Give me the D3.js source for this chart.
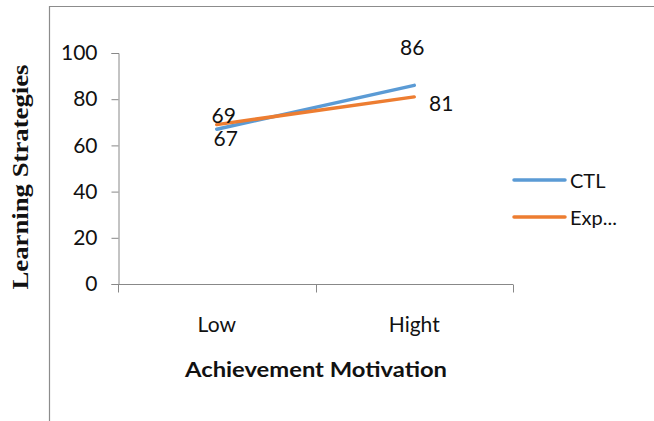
<!DOCTYPE html>
<html>
<head>
<meta charset="utf-8">
<script src="https://cdn.jsdelivr.net/npm/d3@7"></script>
<style>
  body { margin: 0; background: #fff; }
  text { font-family: Lato, "Open Sans", sans-serif; fill: #111; }
</style>
</head>
<body>
<script>
// chart data
const categories = ["Low", "Hight"];
const seriesNames = ["CTL", "Exp..."];
const ctlValues = [67, 86];
const expValues = [69, 81];
const yTicks = [0, 20, 40, 60, 80, 100];
const colors = ["#5B9BD5", "#ED7D31"];

const width = 654;
const height = 421;

const svg = d3
  .select("body")
  .append("svg")
  .attr("width", width)
  .attr("height", height);

// outer frame (only left and top edges visible)
svg.append("path")
  .attr("d", "M49.5,421 V6.5 H654")
  .attr("fill", "none")
  .attr("stroke", "#8c8c8c")
  .attr("stroke-width", 1.2);

// scales
let x = d3.scaleBand().domain(categories).range([118, 513]);
let y = d3.scaleLinear().domain([0, 100]).range([284, 53]);

// y axis
let yAxis = svg.append("g")
  .attr("transform", "translate(118.5,0)")
  .call(d3.axisLeft(y).tickValues(yTicks).tickSize(7).tickPadding(14));
yAxis.select(".domain").attr("stroke", "#888");
yAxis.selectAll(".tick line").attr("stroke", "#888");
yAxis.selectAll(".tick text")
  .attr("font-size", 21)
  .attr("font-family", "Lato, sans-serif")
  .attr("fill", "#111");

// x axis, ticks between categories
let xAxis = svg.append("g").attr("transform", "translate(0,284.5)");
xAxis.append("line")
  .attr("x1", x.range()[0]).attr("x2", x.range()[1])
  .attr("stroke", "#888");
xAxis.selectAll(".xtick")
  .data([...categories.map((c) => x(c)), x.range()[1]])
  .enter()
  .append("line")
  .attr("x1", (d) => Math.round(d) + 0.5)
  .attr("x2", (d) => Math.round(d) + 0.5)
  .attr("y1", 0)
  .attr("y2", 8)
  .attr("stroke", "#888");
xAxis.selectAll(".xlabel")
  .data(categories)
  .enter()
  .append("text")
  .attr("x", (d) => x(d) + x.bandwidth() / 2)
  .attr("y", 47)
  .attr("text-anchor", "middle")
  .attr("font-size", 21)
  .text((d) => d);

// axis titles
svg.append("text")
  .attr("x", 316)
  .attr("y", 377)
  .attr("text-anchor", "middle")
  .attr("font-size", 21)
  .attr("font-weight", "bold")
  .attr("textLength", 262)
  .attr("lengthAdjust", "spacingAndGlyphs")
  .text("Achievement Motivation");

svg.append("text")
  .attr("transform", "translate(28,177) rotate(-90)")
  .attr("text-anchor", "middle")
  .attr("font-size", 24)
  .attr("font-weight", "bold")
  .style("font-family", "'Liberation Serif', 'Times New Roman', serif")
  .attr("textLength", 225)
  .attr("lengthAdjust", "spacingAndGlyphs")
  .text("Learning Strategies");

// lines
const series = [ctlValues, expValues];
let line = d3.line()
  .x((d, i) => x(categories[i]) + x.bandwidth() / 2)
  .y((d) => y(d));

svg.selectAll(".series")
  .data(series)
  .enter()
  .append("path")
  .attr("d", (d) => line(d))
  .attr("fill", "none")
  .attr("stroke", (d, i) => colors[i])
  .attr("stroke-width", 3.5)
  .attr("stroke-linecap", "round");

// data labels: [series, point, dx, dy]
const labelOffsets = [
  [0, 0, 9, 17],
  [0, 1, -2, -30],
  [1, 0, 7, -2],
  [1, 1, 27, 14]
];
svg.selectAll(".dlabel")
  .data(labelOffsets)
  .enter()
  .append("text")
  .attr("x", (d) => x(categories[d[1]]) + x.bandwidth() / 2 + d[2])
  .attr("y", (d) => y(series[d[0]][d[1]]) + d[3])
  .attr("text-anchor", "middle")
  .attr("font-size", 21)
  .text((d) => series[d[0]][d[1]]);

// legend
let legend = svg.append("g").attr("transform", "translate(514,180)");
legend.selectAll("line")
  .data(seriesNames)
  .enter()
  .append("line")
  .attr("x1", 0)
  .attr("x2", 51)
  .attr("y1", (d, i) => i * 37)
  .attr("y2", (d, i) => i * 37)
  .attr("stroke", (d, i) => colors[i])
  .attr("stroke-width", 3.5)
  .attr("stroke-linecap", "round");
legend.selectAll("text")
  .data(seriesNames)
  .enter()
  .append("text")
  .attr("x", 56)
  .attr("y", (d, i) => i * 37 + 8)
  .attr("font-size", 20)
  .text((d) => d);
</script>
</body>
</html>
